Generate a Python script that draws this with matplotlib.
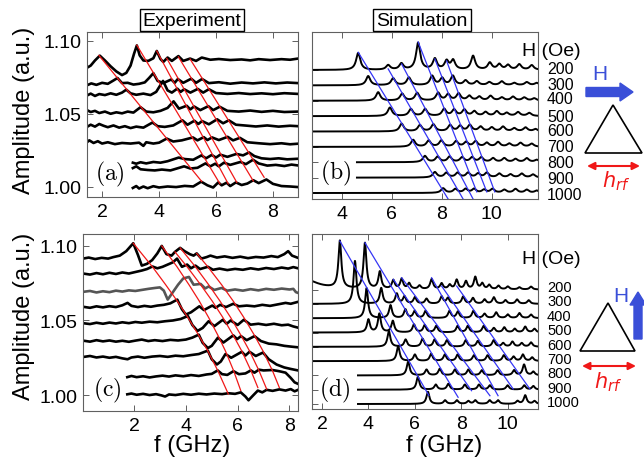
import numpy as np
import matplotlib
matplotlib.use('Agg')
import matplotlib.pyplot as plt
from matplotlib.patches import Polygon, FancyArrow

plt.rcParams['font.family'] = ['Liberation Sans', 'DejaVu Sans']

fields = [200, 300, 400, 500, 600, 700, 800, 900, 1000]

# ---------------- (a) experiment, H along the base ----------------
exp_a = [
    [(1.47,1.0815),(1.6,1.083),(1.75,1.0865),(1.92,1.0898),(2.1,1.0865),(2.3,1.0825),(2.5,1.079),(2.7,1.0765),
     (2.85,1.078),(3.0,1.083),(3.12,1.091),(3.22,1.0968),(3.32,1.090),(3.45,1.0865),(3.62,1.0862),(3.8,1.088),
     (3.92,1.093),(4.05,1.0875),(4.15,1.0855),(4.3,1.0885),(4.45,1.0862),(4.68,1.0895),(4.85,1.0862),(5.09,1.0878),
     (5.3,1.0862),(5.5,1.0885),(5.8,1.0870),(6.1,1.0875),(6.5,1.0868),(6.9,1.0872),(7.2,1.0866),(7.5,1.0874),
     (7.9,1.0868),(8.3,1.0874),(8.6,1.0870),(8.88,1.0878)],
    [(1.47,1.0695),(1.62,1.0708),(1.8,1.0698),(2.0,1.0712),(2.2,1.0705),(2.4,1.0728),(2.54,1.0745),(2.7,1.071),
     (2.9,1.0712),(3.1,1.0700),(3.3,1.0705),(3.5,1.0715),(3.65,1.0745),(3.8,1.0778),(3.95,1.0725),(4.15,1.0710),
     (4.43,1.0735),(4.55,1.0712),(4.66,1.0738),(4.85,1.0712),(5.13,1.0740),(5.3,1.0712),(5.51,1.0738),(5.75,1.0710),
     (6.1,1.0716),(6.5,1.0706),(6.9,1.0714),(7.3,1.0708),(7.7,1.0715),(8.1,1.0708),(8.5,1.0714),(8.88,1.0710)],
    [(1.47,1.0625),(1.6,1.0638),(1.75,1.0622),(1.9,1.0635),(2.1,1.0628),(2.3,1.0640),(2.5,1.0630),(2.7,1.0645),
     (2.85,1.0665),(3.0,1.0640),(3.2,1.0630),(3.45,1.0638),(3.7,1.0628),(3.9,1.0650),(4.14,1.0725),(4.3,1.0660),
     (4.45,1.0645),(4.64,1.0672),(4.76,1.0650),(4.88,1.0668),(5.1,1.0645),(5.36,1.0670),(5.55,1.0645),(5.75,1.0668),
     (6.0,1.0642),(6.4,1.0636),(6.8,1.0642),(7.2,1.0635),(7.6,1.0640),(8.0,1.0634),(8.4,1.0641),(8.88,1.0636)],
    [(1.47,1.0525),(1.6,1.0512),(1.75,1.0520),(1.9,1.0505),(2.1,1.0515),(2.3,1.0500),(2.5,1.0510),(2.7,1.0503),
     (2.9,1.0515),(3.1,1.0508),(3.35,1.0545),(3.55,1.0515),(3.8,1.0510),(4.05,1.0520),(4.3,1.0540),(4.51,1.0585),
     (4.7,1.0535),(4.97,1.0555),(5.1,1.0530),(5.23,1.0550),(5.45,1.0525),(5.73,1.0552),(5.9,1.0525),(6.13,1.0548),
     (6.4,1.0520),(6.8,1.0515),(7.2,1.0522),(7.6,1.0513),(8.0,1.0520),(8.4,1.0512),(8.88,1.0515)],
    [(1.47,1.0410),(1.6,1.0425),(1.75,1.0412),(1.9,1.0430),(2.05,1.0418),(2.2,1.0408),(2.4,1.0420),(2.6,1.0405),
     (2.8,1.0415),(3.0,1.0402),(3.2,1.0412),(3.45,1.0405),(3.77,1.0440),(3.95,1.0415),(4.2,1.0410),(4.5,1.0420),
     (4.82,1.0455),(5.0,1.0425),(5.24,1.0452),(5.38,1.0430),(5.51,1.0450),(5.75,1.0428),(6.04,1.0462),(6.25,1.0435),
     (6.45,1.0455),(6.7,1.0425),(7.0,1.0420),(7.4,1.0413),(7.8,1.0420),(8.2,1.0412),(8.6,1.0418),(8.88,1.0415)],
    [(1.47,1.0305),(1.55,1.0318),(1.7,1.0300),(1.85,1.0312),(2.0,1.0296),(2.2,1.0305),(2.45,1.0292),(2.7,1.0300),
     (3.0,1.0296),(3.3,1.0302),(3.45,1.0280),(3.55,1.0305),(3.8,1.0296),(4.0,1.0302),(4.27,1.0330),(4.5,1.0310),
     (4.8,1.0318),(5.19,1.0338),(5.35,1.0318),(5.57,1.0340),(5.7,1.0320),(5.86,1.0338),(6.1,1.0320),(6.41,1.0342),
     (6.6,1.0318),(6.84,1.0335),(7.1,1.0305),(7.5,1.0298),(7.9,1.0292),(8.3,1.0298),(8.6,1.0291),(8.88,1.0295)],
    [(3.08,1.0165),(3.2,1.0158),(3.35,1.0168),(3.55,1.0160),(3.8,1.0170),(4.05,1.0165),(4.3,1.0175),(4.69,1.0200),
     (4.9,1.0190),(5.2,1.0185),(5.49,1.0215),(5.65,1.0195),(5.85,1.0218),(6.0,1.0200),(6.15,1.0220),(6.4,1.0205),
     (6.72,1.0225),(6.95,1.0215),(7.16,1.0235),(7.35,1.0210),(7.6,1.0195),(7.9,1.0190),(8.2,1.0195),(8.5,1.0188),
     (8.88,1.0192)],
    [(3.08,1.0128),(3.2,1.0140),(3.35,1.0120),(3.6,1.0115),(3.85,1.0112),(4.1,1.0118),(4.4,1.0112),(4.88,1.0140),
     (5.1,1.0125),(5.35,1.0130),(5.63,1.0160),(5.8,1.0140),(5.97,1.0158),(6.1,1.0140),(6.28,1.0165),(6.5,1.0150),
     (6.86,1.0170),(7.05,1.0155),(7.30,1.0185),(7.5,1.0160),(7.8,1.0145),(8.1,1.0150),(8.4,1.0142),(8.65,1.0152),
     (8.88,1.0146)],
    [(3.08,0.9992),(3.2,1.0005),(3.3,0.9988),(3.45,1.0002),(3.6,0.9990),(3.8,1.0004),(4.0,0.9995),(4.3,1.0002),
     (4.6,0.9998),(4.9,1.0006),(5.2,1.0002),(5.48,1.0035),(5.7,1.0010),(5.9,0.9995),(6.08,1.0030),(6.2,1.0010),
     (6.37,1.0028),(6.5,1.0005),(6.70,1.0030),(6.9,1.0012),(7.1,1.0022),(7.31,1.0045),(7.5,1.0025),(7.77,1.0050),
     (8.0,1.0020),(8.3,1.0005),(8.6,1.0002),(8.88,0.9998)],
]
red_a = [((1.89, 1.0900), (5.50, 1.0036)), ((3.22, 1.0970), (6.14, 1.0020)),
         ((3.92, 1.0930), (6.43, 1.0020)), ((4.27, 1.0880), (6.73, 1.0030)),
         ((4.68, 1.0890), (7.31, 1.0040)), ((5.09, 1.0875), (7.69, 1.0065))]

# ---------------- (c) experiment, H along the height ----------------
exp_c = [
    [(0.03,1.0915),(0.25,1.0922),(0.5,1.0912),(0.75,1.0920),(1.0,1.0915),(1.2,1.0925),(1.45,1.0935),(1.7,1.0965),
     (1.97,1.1018),(2.15,1.0940),(2.3,1.0868),(2.5,1.0880),(2.7,1.0905),(2.9,1.0950),(3.07,1.1000),(3.25,1.0945),
     (3.45,1.0935),(3.58,1.0960),(3.78,1.0987),(3.95,1.0965),(4.15,1.0945),(4.3,1.0935),(4.42,1.0950),(4.6,1.0915),
     (4.8,1.0925),(4.95,1.0935),(5.2,1.0922),(5.5,1.0930),(5.8,1.0920),(6.1,1.0928),(6.4,1.0918),(6.7,1.0926),
     (7.0,1.0922),(7.3,1.0932),(7.55,1.0925),(7.8,1.0945),(7.95,1.0965),(8.1,1.0935),(8.33,1.0920)],
    [(0.03,1.0815),(0.3,1.0808),(0.55,1.0818),(0.8,1.0810),(1.05,1.0820),(1.3,1.0812),(1.55,1.0822),(1.8,1.0815),
     (2.05,1.0825),(2.3,1.0835),(2.5,1.0845),(2.71,1.0862),(2.9,1.0850),(3.1,1.0860),(3.3,1.0875),(3.5,1.0890),
     (3.66,1.0915),(3.85,1.0860),(4.05,1.0875),(4.2,1.0850),(4.37,1.0868),(4.55,1.0845),(4.85,1.0860),(5.05,1.0840),
     (5.3,1.0848),(5.6,1.0838),(5.9,1.0846),(6.2,1.0840),(6.5,1.0850),(6.8,1.0842),(7.1,1.0852),(7.4,1.0845),
     (7.7,1.0855),(7.95,1.0848),(8.15,1.0858),(8.33,1.0850)],
    [(0.03,1.0692),(0.3,1.0698),(0.55,1.0688),(0.8,1.0696),(1.05,1.0690),(1.3,1.0700),(1.55,1.0694),(1.8,1.0702),
     (2.05,1.0698),(2.3,1.0705),(2.55,1.0712),(2.8,1.0718),(3.0,1.0722),(3.15,1.0700),(3.3,1.0640),(3.5,1.0690),
     (3.7,1.0740),(3.9,1.0782),(4.12,1.0792),(4.3,1.0740),(4.57,1.0745),(4.75,1.0715),(4.88,1.0728),(5.1,1.0705),
     (5.38,1.0718),(5.6,1.0700),(5.9,1.0708),(6.2,1.0700),(6.5,1.0710),(6.8,1.0702),(7.1,1.0712),(7.4,1.0706),
     (7.7,1.0714),(8.0,1.0708),(8.15,1.0712),(8.25,1.0690),(8.33,1.0685)],
    [(0.03,1.0592),(0.3,1.0585),(0.55,1.0595),(0.8,1.0588),(1.05,1.0596),(1.3,1.0590),(1.55,1.0602),(1.75,1.0618),
     (1.9,1.0598),(2.15,1.0590),(2.4,1.0598),(2.65,1.0592),(2.9,1.0600),(3.15,1.0605),(3.4,1.0615),(3.67,1.0640),
     (3.85,1.0575),(4.0,1.0540),(4.2,1.0555),(4.52,1.0595),(4.7,1.0570),(5.02,1.0600),(5.15,1.0585),(5.32,1.0605),
     (5.55,1.0590),(5.83,1.0612),(6.05,1.0595),(6.35,1.0600),(6.65,1.0595),(6.95,1.0605),(7.25,1.0598),(7.55,1.0608),
     (7.85,1.0618),(8.05,1.0612),(8.33,1.0625)],
    [(0.03,1.0482),(0.3,1.0476),(0.55,1.0485),(0.8,1.0478),(1.05,1.0486),(1.3,1.0480),(1.55,1.0488),(1.8,1.0482),
     (2.05,1.0490),(2.3,1.0485),(2.6,1.0492),(2.9,1.0488),(3.2,1.0495),(3.5,1.0500),(3.8,1.0510),(4.08,1.0530),
     (4.25,1.0470),(4.45,1.0430),(4.65,1.0450),(4.88,1.0495),(5.1,1.0462),(5.43,1.0505),(5.58,1.0478),(5.73,1.0500),
     (6.0,1.0470),(6.24,1.0505),(6.5,1.0472),(6.8,1.0478),(7.1,1.0470),(7.4,1.0478),(7.7,1.0468),(7.95,1.0472),
     (8.15,1.0460),(8.33,1.0452)],
    [(0.03,1.0365),(0.3,1.0358),(0.55,1.0368),(0.8,1.0360),(1.05,1.0366),(1.3,1.0358),(1.55,1.0364),(1.8,1.0357),
     (2.05,1.0365),(2.3,1.0372),(2.55,1.0362),(2.8,1.0368),(3.1,1.0362),(3.4,1.0370),(3.7,1.0366),(4.0,1.0372),
     (4.25,1.0385),(4.50,1.0405),(4.65,1.0350),(4.85,1.0315),(5.0,1.0330),(5.24,1.0385),(5.45,1.0352),(5.83,1.0400),
     (5.98,1.0375),(6.13,1.0395),(6.35,1.0368),(6.65,1.0395),(6.9,1.0362),(7.2,1.0345),(7.5,1.0340),(7.8,1.0330),
     (8.05,1.0325),(8.33,1.0320)],
    [(0.03,1.0255),(0.3,1.0262),(0.55,1.0252),(0.8,1.0258),(1.05,1.0250),(1.3,1.0256),(1.55,1.0246),(1.75,1.0240),
     (1.9,1.0252),(2.15,1.0258),(2.4,1.0250),(2.7,1.0258),(3.0,1.0262),(3.3,1.0256),(3.6,1.0264),(3.9,1.0260),
     (4.2,1.0268),(4.5,1.0275),(4.85,1.0298),(5.0,1.0240),(5.2,1.0205),(5.35,1.0225),(5.53,1.0275),(5.75,1.0250),
     (6.16,1.0290),(6.3,1.0265),(6.46,1.0290),(6.7,1.0262),(6.98,1.0285),(7.2,1.0240),(7.5,1.0205),(7.8,1.0185),
     (8.05,1.0175),(8.33,1.0165)],
    [(1.74,1.0120),(1.9,1.0128),(2.1,1.0120),(2.35,1.0126),(2.6,1.0118),(2.85,1.0125),(3.1,1.0130),(3.35,1.0124),
     (3.6,1.0132),(3.9,1.0126),(4.2,1.0134),(4.5,1.0128),(4.8,1.0138),(5.0,1.0142),(5.23,1.0165),(5.4,1.0140),
     (5.6,1.0135),(5.84,1.0160),(6.05,1.0140),(6.3,1.0145),(6.51,1.0165),(6.65,1.0150),(6.82,1.0170),(7.0,1.0165),
     (7.34,1.0168),(7.6,1.0160),(7.85,1.0150),(8.05,1.0115),(8.2,1.0085),(8.33,1.0075)],
    [(1.74,1.0005),(1.9,1.0010),(2.1,1.0002),(2.35,1.0008),(2.6,1.0000),(2.85,1.0006),(3.05,0.9998),(3.2,0.9990),
     (3.35,1.0004),(3.6,1.0000),(3.9,1.0008),(4.2,1.0002),(4.5,1.0009),(4.8,1.0004),(5.1,1.0010),(5.4,1.0006),
     (5.64,1.0012),(5.9,1.0008),(6.12,1.0018),(6.3,0.9990),(6.42,0.9965),(6.6,0.9998),(6.78,1.0030),(6.95,1.0018),
     (7.12,1.0035),(7.35,1.0028),(7.61,1.0038),(7.85,1.0030),(8.05,1.0040),(8.2,1.0025),(8.33,1.0035)],
]
gray_c = 2  # the 400 Oe curve is drawn in grey
red_c_f = [[1.97, 2.71, 3.22, 3.67, 4.08, 4.50, 4.85, 5.23, 5.64],
           [3.07, 3.66, 4.12, 4.52, 4.88, 5.24, 5.53, 5.84, 6.12],
           [3.58, 4.05, 4.57, 5.02, 5.43, 5.83, 6.16, 6.51, 6.78],
           [3.78, 4.37, 4.88, 5.32, 5.73, 6.13, 6.46, 6.82, 7.12],
           [4.42, 4.85, 5.38, 5.83, 6.24, 6.65, 6.98, 7.34, 7.61]]
red_c_v = [[1.1018, 1.086, 1.074, 1.063, 1.052, 1.040, 1.0295, 1.0165, 1.0007],
           [1.1000, 1.086, 1.074, 1.063, 1.052, 1.040, 1.0295, 1.0165, 1.0030],
           [1.0960, 1.086, 1.074, 1.063, 1.052, 1.040, 1.0295, 1.0165, 1.0050],
           [1.0987, 1.086, 1.074, 1.063, 1.052, 1.040, 1.0295, 1.0165, 1.0040],
           [1.0950, 1.086, 1.074, 1.063, 1.052, 1.040, 1.0295, 1.0165, 1.0050]]

# ---------------- (b) simulation, H along the base ----------------
base_b = [8, 7, 6, 5, 4, 3, 2, 1, 0]
start_b = [2.8, 2.8, 2.8, 2.8, 2.8, 2.8, 4.6, 4.6, 2.8]
peaks_b = [
    [(4.65,1.1),(5.85,0.3),(6.38,0.4),(7.05,1.75),(7.72,0.7),(8.19,0.55),(8.45,0.6),(9.25,0.9),
     (9.92,0.45),(10.3,0.35),(10.65,0.3),(11.1,0.35),(11.6,0.3)],
    [(5.05,0.6),(6.05,0.45),(6.68,0.5),(7.61,0.6),(8.01,0.45),(8.44,0.6),(8.95,0.3),(9.4,0.25),
     (9.9,0.2),(10.4,0.25),(10.9,0.15),(11.4,0.2),(11.8,0.15)],
    [(5.45,0.55),(6.41,0.45),(7.01,0.5),(7.85,0.5),(8.25,0.4),(8.67,0.45),(9.1,0.3),(9.5,0.25),
     (9.95,0.3),(10.4,0.2),(10.85,0.25),(11.3,0.2),(11.7,0.15)],
    [(5.92,0.55),(6.76,0.45),(7.33,0.45),(8.09,0.45),(8.49,0.4),(8.90,0.4),(9.3,0.3),(9.75,0.25),
     (10.2,0.3),(10.6,0.2),(11.05,0.25),(11.5,0.2)],
    [(6.39,0.5),(7.12,0.4),(7.66,0.45),(8.33,0.4),(8.73,0.35),(9.12,0.4),(9.55,0.3),(10.0,0.25),
     (10.45,0.3),(10.9,0.2),(11.35,0.25),(11.75,0.15)],
    [(6.85,0.45),(7.47,0.4),(7.98,0.4),(8.57,0.35),(8.97,0.3),(9.35,0.35),(9.8,0.25),(10.25,0.3),
     (10.7,0.2),(11.15,0.25),(11.6,0.2)],
    [(7.32,0.4),(7.83,0.35),(8.31,0.35),(8.81,0.3),(9.21,0.3),(9.58,0.3),(10.05,0.25),(10.5,0.25),
     (10.95,0.2),(11.4,0.25),(11.8,0.15)],
    [(7.72,0.35),(8.18,0.3),(8.63,0.3),(9.05,0.3),(9.45,0.25),(9.80,0.3),(10.3,0.25),(10.75,0.2),
     (11.2,0.25),(11.65,0.2)],
    [(8.05,0.3),(8.54,0.25),(8.95,0.25),(9.29,0.25),(9.69,0.2),(10.03,0.25),(10.5,0.2),(10.95,0.25),
     (11.4,0.2),(11.8,0.15)],
]
blue_b = [((4.65, 9.15), (8.25, -0.39)), ((5.85, 8.07), (8.85, -0.39)), ((6.39, 8.39), (9.25, -0.39)),
          ((7.05, 9.82), (9.40, 0.07)), ((7.72, 8.72), (9.80, 0.07)), ((8.19, 8.59), (10.12, 0.07))]

# ---------------- (d) simulation, H along the height ----------------
base_d = [8, 7, 6, 5, 4, 3, 2, 1, 0]
start_d = [1.57, 1.57, 1.57, 1.57, 1.57, 1.57, 3.55, 3.55, 3.55]
peaks_d = [
    [(1.2,0.75,0.7),(2.77,3.3),(3.85,3.2),(4.49,1.2),(5.07,0.6),(5.43,0.7),(5.75,0.4),(6.2,0.25),(6.72,0.7),
     (7.15,0.4),(7.5,0.3),(7.8,0.65),(8.2,0.55),(8.6,0.85),(8.9,0.4),(9.2,0.3),(9.6,0.25),(10.0,0.2),
     (10.5,0.15),(11.0,0.2)],
    [(3.42,3.0),(4.55,1.1),(5.22,0.7),(5.55,0.5),(6.0,0.45),(6.5,0.35),(7.15,0.5),(7.42,0.4),(8.08,0.5),
     (8.5,0.4),(9.0,0.3),(9.4,0.45),(9.9,0.25),(10.4,0.3),(10.9,0.25)],
    [(3.92,2.1),(4.95,0.9),(5.59,0.6),(5.99,0.5),(6.46,0.5),(7.49,0.5),(7.85,0.45),(8.52,0.5),(9.0,0.3),
     (9.5,0.4),(10.0,0.25),(10.5,0.35),(11.0,0.25)],
    [(4.0,0.9),(4.47,1.3),(5.05,0.8),(5.96,0.55),(6.42,0.5),(6.92,0.45),(7.84,0.45),(8.28,0.45),(8.96,0.45),
     (9.4,0.3),(9.85,0.35),(10.3,0.25),(10.75,0.4),(11.15,0.25)],
    [(4.88,1.1),(5.6,0.5),(6.33,0.55),(6.85,0.5),(7.38,0.45),(8.19,0.45),(8.71,0.4),(9.39,0.45),(9.8,0.25),
     (10.2,0.35),(10.6,0.25),(11.0,0.3)],
    [(5.28,1.05),(6.0,0.45),(6.70,0.5),(7.29,0.45),(7.84,0.45),(8.54,0.4),(9.13,0.4),(9.83,0.4),(10.25,0.3),
     (10.65,0.45),(11.05,0.25)],
    [(5.71,0.95),(6.5,0.4),(7.07,0.45),(7.72,0.4),(8.30,0.4),(8.88,0.35),(9.56,0.35),(10.27,0.35),(10.7,0.75),
     (11.1,0.25)],
    [(6.13,0.9),(6.9,0.35),(7.44,0.4),(8.15,0.35),(8.76,0.35),(9.23,0.3),(9.99,0.3),(10.71,0.3),(11.1,0.25)],
    [(6.56,0.85),(7.3,0.25),(7.81,0.25),(8.3,0.2),(8.6,0.25),(9.22,0.25),(9.58,0.25),(10.42,0.2),(10.75,0.6),
     (11.15,0.2)],
]
blue_d = [((2.77, 11.4), (6.60, 0.6)), ((3.85, 11.28), (7.86, 0.47)), ((5.07, 8.72), (8.44, 0.93)),
          ((5.43, 8.83), (9.23, 0.58)), ((6.72, 8.83), (9.58, 0.58)), ((7.15, 8.25), (10.23, 1.05)),
          ((7.80, 8.25), (10.95, 1.05))]

RED = '#f01818'
BLUE = '#3535f5'
ARROW_BLUE = '#3a4fd8'
FRAME = '#606060'


def lorentz_trace(f, base, peaks, w):
    y = np.full_like(f, float(base))
    for p in peaks:
        ww = p[2] if len(p) > 2 else w
        y += p[1] / (1 + ((f - p[0]) / ww) ** 2)
    return y


def style(ax, right=True):
    for s in ax.spines.values():
        s.set_color(FRAME)
        s.set_linewidth(0.8)
    ax.tick_params(direction='in', length=4, width=0.7, color=FRAME, labelsize=14,
                   top=True, right=right, pad=4)


fig = plt.figure(figsize=(6.44, 4.64), dpi=100)
W, H = 644.0, 464.0


def add_ax(l, t, r, b):
    return fig.add_axes([l / W, 1 - b / H, (r - l) / W, (b - t) / H])


ax_a = add_ax(87, 33, 298, 198)
ax_b = add_ax(312, 33, 538, 200)
ax_c = add_ax(83, 235, 298, 412)
ax_d = add_ax(312, 235, 538, 410)

# experiment panels
for ax, traces, xlim, ylim in [(ax_a, exp_a, (1.47, 8.88), (0.993, 1.106)),
                               (ax_c, exp_c, (0.03, 8.33), (0.9893, 1.108))]:
    for i, tr in enumerate(traces):
        f, v = zip(*tr)
        col = '#555555' if (ax is ax_c and i == gray_c) else 'black'
        ax.plot(f, v, color=col, lw=1.9, solid_joinstyle='round')
    ax.set_xlim(*xlim)
    ax.set_ylim(*ylim)
    ax.set_yticks([1.00, 1.05, 1.10])
    ax.set_yticklabels(['1.00', '1.05', '1.10'])
    ax.set_xticks([2, 4, 6, 8])
    style(ax)

for (f0, v0), (f1, v1) in red_a:
    ax_a.plot([f0, f1], [v0, v1], color=RED, lw=0.9)
for fl, vl in zip(red_c_f, red_c_v):
    ax_c.plot(fl, vl, color=RED, lw=0.9)

# simulation panels
for ax, base, start, peaks, lines, xlim, ylim, w, xt in [
        (ax_b, base_b, start_b, peaks_b, blue_b, (2.8, 11.85), (-0.39, 10.47), 0.1, [4, 6, 8, 10]),
        (ax_d, base_d, start_d, peaks_d, blue_d, (1.57, 11.3), (-0.35, 11.89), 0.075, [2, 4, 6, 8, 10])]:
    for b0, s0, pk in zip(base, start, peaks):
        f = np.linspace(s0, xlim[1], 1600)
        ax.plot(f, lorentz_trace(f, b0, pk, w), color='black', lw=1.4)
    for (f0, y0), (f1, y1) in lines:
        ax.plot([f0, f1], [y0, y1], color=BLUE, lw=0.9)
    ax.set_xlim(*xlim)
    ax.set_ylim(*ylim)
    ax.set_xticks(xt)
    ax.set_yticks(base)
    ax.set_yticklabels([])
    style(ax, right=False)

# overlay in pixel coordinates for labels and sketches
ov = fig.add_axes([0, 0, 1, 1])
ov.set_xlim(0, W)
ov.set_ylim(H, 0)
ov.axis('off')

box = dict(boxstyle='square,pad=0.15', fc='white', ec='black', lw=1)
ov.text(192, 21, 'Experiment', ha='center', va='center', fontsize=14, bbox=box)
ov.text(422, 21, 'Simulation', ha='center', va='center', fontsize=14, bbox=box)
ov.text(24, 110, 'Amplitude (a.u.)', rotation=90, ha='center', va='center', fontsize=17)
ov.text(24, 316, 'Amplitude (a.u.)', rotation=90, ha='center', va='center', fontsize=17)
ov.text(192, 446, 'f (GHz)', ha='center', va='center', fontsize=17)
ov.text(444, 446, 'f (GHz)', ha='center', va='center', fontsize=17)

for lab, x, y in [('a', 110, 174), ('b', 336, 173), ('c', 107, 390), ('d', 335, 390)]:
    ov.text(x, y, r'$(\mathrm{%s})$' % lab, math_fontfamily='cm', fontsize=17,
            ha='center', va='center')

ov.text(551, 52, 'H (Oe)', ha='center', va='center', fontsize=14)
ov.text(551, 260, 'H (Oe)', ha='center', va='center', fontsize=14)
b_label_y = [69, 85, 100, 117, 132, 148, 164, 180, 196]
d_label_y = [288, 302.4, 316.8, 331.2, 345.6, 360, 374.4, 388.8, 403.2]
for fld, yb, yd in zip(fields, b_label_y, d_label_y):
    ov.text(547, yb, str(fld), ha='left', va='center', fontsize=11.5)
    ov.text(547, yd, str(fld), ha='left', va='center', fontsize=10.5)

# top sketch: H along the base
ov.text(600, 75, 'H', color=ARROW_BLUE, fontsize=15, ha='center', va='center')
ov.add_patch(FancyArrow(586, 93, 34, 0, width=9, head_width=18, head_length=13, color=ARROW_BLUE))
ov.add_patch(Polygon([(585, 154), (613, 106), (642, 154)], closed=True, fill=False, ec='black', lw=1.2))
ov.annotate('', xy=(640, 167), xytext=(587, 167),
            arrowprops=dict(arrowstyle='<|-|>', color=RED, lw=1.5, mutation_scale=11, shrinkA=0, shrinkB=0))
ov.text(616, 181, r'$h_{rf}$', math_fontfamily='dejavusans', color=RED, fontsize=15, ha='center', va='center')

# bottom sketch: H along the height
ov.text(621, 297, 'H', color=ARROW_BLUE, fontsize=15, ha='center', va='center')
ov.add_patch(FancyArrow(638, 340, 0, -34, width=8, head_width=16, head_length=13, color=ARROW_BLUE))
ov.add_patch(Polygon([(580, 352), (608, 304), (635, 352)], closed=True, fill=False, ec='black', lw=1.2))
ov.annotate('', xy=(636, 367), xytext=(582, 367),
            arrowprops=dict(arrowstyle='<|-|>', color=RED, lw=1.5, mutation_scale=11, shrinkA=0, shrinkB=0))
ov.text(608, 382, r'$h_{rf}$', math_fontfamily='dejavusans', color=RED, fontsize=15, ha='center', va='center')

fig.savefig('out.png', dpi=100)
